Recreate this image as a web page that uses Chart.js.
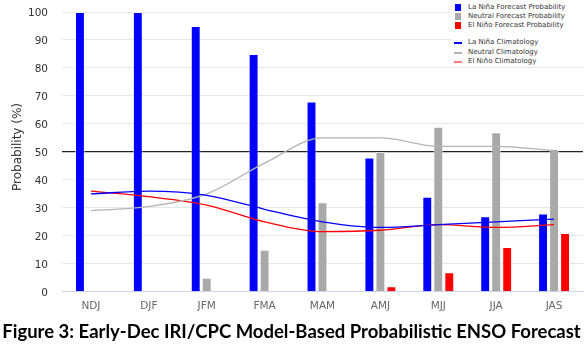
<!DOCTYPE html>
<html>
<head>
<meta charset="utf-8">
<title>ENSO Forecast</title>
<script src="https://cdn.jsdelivr.net/npm/chart.js@4.4.0/dist/chart.umd.min.js"></script>
<style>
  body { margin: 0; background: #fff; }
  #wrap { position: relative; width: 587px; height: 348px; }
  #ytitle {
    position: absolute; left: 16.5px; top: 147px; white-space: nowrap;
    font: 12px 'DejaVu Sans', sans-serif; color: #333;
    transform: translate(-50%, -50%) rotate(-90deg);
  }
  #legend {
    position: absolute; left: 451px; top: 0; width: 136px; height: 66px;
    background: #fff; font: 7px 'DejaVu Sans', sans-serif; color: #333;
  }
  .row { position: absolute; left: 0; height: 9px; line-height: 9px; white-space: nowrap; }
  .row .mk { position: absolute; left: 4px; }
  .row span.txt { position: absolute; left: 17px; top: 0; }
</style>
</head>
<body>
<div id="wrap">
  <canvas id="myChart" width="587" height="348"></canvas>
  <div id="ytitle">Probability (%)</div>
  <div id="legend"></div>
</div>
<script>
// seasons
var seasons = ["NDJ", "DJF", "JFM", "FMA", "MAM", "AMJ", "MJJ", "JJA", "JAS"];

// forecast probabilities (%)
var laNinaProb  = [100, 100, 95, 85, 68, 48, 34, 27, 28];
var neutralProb = [0, 0, 5, 15, 32, 50, 59, 57, 51];
var elNinoProb  = [0, 0, 0, 0, 0, 2, 7, 16, 21];

// climatology (%)
var laNinaClim  = [35, 36, 34.5, 29.5, 25, 23, 24, 25, 26];
var neutralClim = [29, 30.5, 35, 46, 55, 55, 52, 52, 50.5];
var elNinoClim  = [36, 34, 31, 25, 21.5, 22, 24, 23, 24];

var yTicks = [0, 10, 20, 30, 40, 50, 60, 70, 80, 90, 100];

var BLUE = "#0000ff", GRAY = "#a9a9a9", RED = "#ff0000";

function barSet(label, data, color) {
  return {
    type: "bar", label: label, data: data, order: 2,
    backgroundColor: color, borderColor: "rgba(255,255,255,0.45)", borderWidth: 1,
    categoryPercentage: 0.57, barPercentage: 0.9
  };
}
function lineSet(label, data, color, w) {
  return {
    type: "line", label: label, data: data, order: 1,
    borderColor: color, borderWidth: w, pointRadius: 0,
    cubicInterpolationMode: "monotone", fill: false
  };
}

var chartData = {
  labels: seasons,
  datasets: [
    barSet("La Niña Forecast Probability", laNinaProb, BLUE),
    barSet("Neutral Forecast Probability", neutralProb, GRAY),
    barSet("El Niño Forecast Probability", elNinoProb, RED),
    lineSet("La Niña Climatology", laNinaClim, BLUE, 1.3),
    lineSet("Neutral Climatology", neutralClim, "#b4b4b4", 1.3),
    lineSet("El Niño Climatology", elNinoClim, RED, 1.3)
  ]
};

// y tick labels, right aligned a fixed distance left of the plot
var yLabels = {
  id: "yLabels",
  afterDraw: function (chart) {
    var ctx = chart.ctx, ys = chart.scales.y;
    ctx.save();
    ctx.font = "10.5px 'DejaVu Sans'";
    ctx.fillStyle = "#333";
    ctx.textAlign = "right";
    ctx.textBaseline = "middle";
    yTicks.forEach(function (v) {
      ctx.fillText(String(v), chart.chartArea.left - 14, ys.getPixelForValue(v) + 1);
    });
    ctx.restore();
  }
};

var chartConfig = {
  type: "bar",
  data: chartData,
  plugins: [yLabels],
  options: {
    responsive: false,
    animation: false,
    layout: { padding: { top: 12, right: 4, left: 0, bottom: 0 } },
    plugins: {
      legend: { display: false },
      tooltip: { enabled: false },
      title: {
        display: true, position: "bottom",
        text: "Figure 3: Early-Dec IRI/CPC Model-Based Probabilistic ENSO Forecast",
        color: "#000",
        font: { family: "Lato", size: 18.5, weight: "bold" },
        padding: { top: 5, bottom: 5 }
      }
    },
    scales: {
      x: {
        grid: { display: false, drawTicks: false },
        border: { color: "#ccd6eb" },
        ticks: { color: "#666", padding: 8, font: { family: "DejaVu Sans", size: 10.5 } },
        afterFit: function (s) { s.height = 24; }
      },
      y: {
        min: 0, max: 100,
        afterBuildTicks: function (s) { s.ticks = yTicks.map(function (v) { return { value: v }; }); },
        afterFit: function (s) { s.width = 62; },
        border: { display: false },
        grid: {
          drawTicks: false,
          color: function (c) { return c.tick && c.tick.value === 50 ? "#222" : "#e6e6e6"; },
          lineWidth: function (c) { return c.tick && c.tick.value === 50 ? 1.3 : 1; }
        },
        ticks: { display: false }
      }
    }
  }
};

var myChart = new Chart(document.getElementById("myChart"), chartConfig);

// legend built from the dataset list
var legend = document.getElementById("legend");
var rowTops = [2.5, 11.8, 21.1, 38.2, 47.5, 56.8];
chartData.datasets.forEach(function (ds, i) {
  var row = document.createElement("div");
  row.className = "row";
  row.style.top = rowTops[i] + "px";
  var mk = document.createElement("div");
  mk.className = "mk";
  if (ds.type === "bar") {
    mk.style.cssText = "top:1px;width:6px;height:7px;background:" + ds.backgroundColor;
  } else {
    var c = i === 5 ? "#ff7a7a" : ds.borderColor;
    mk.style.cssText = "top:4px;width:8px;height:2px;left:3px;background:" + c;
  }
  var txt = document.createElement("span");
  txt.className = "txt";
  txt.textContent = ds.label;
  row.appendChild(mk);
  row.appendChild(txt);
  legend.appendChild(row);
});
</script>
</body>
</html>
